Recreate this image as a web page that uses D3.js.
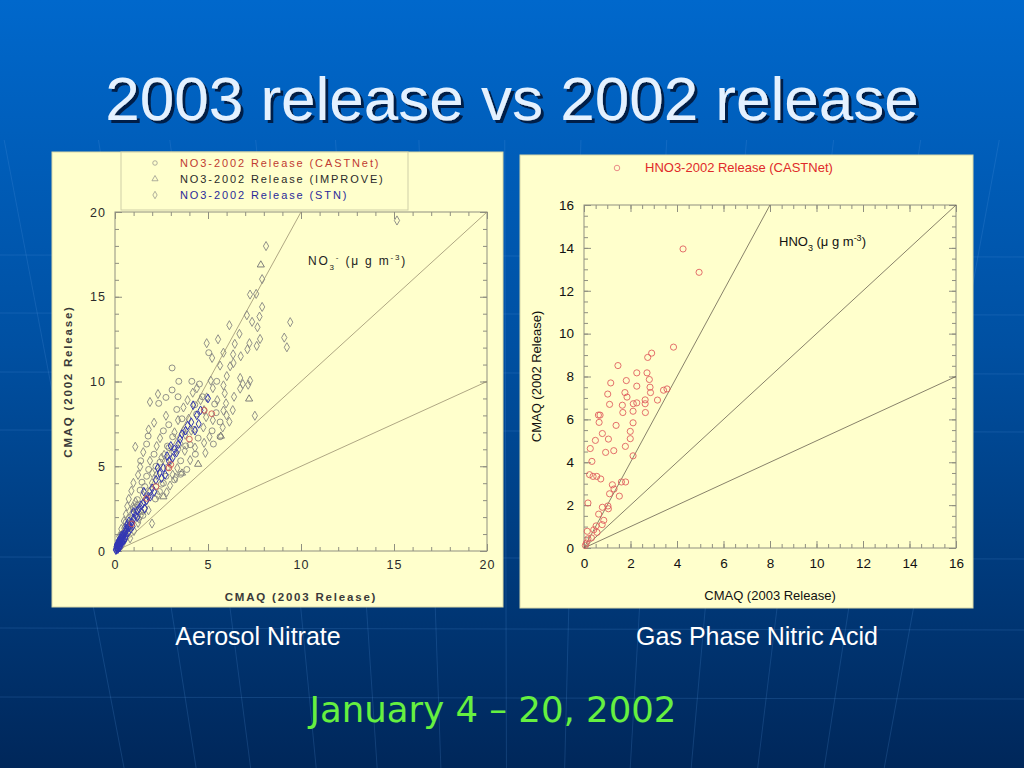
<!DOCTYPE html>
<html>
<head>
<meta charset="utf-8">
<script src="https://cdn.jsdelivr.net/npm/d3@7"></script>
<style>
  html, body { margin: 0; padding: 0; background: #003a80; }
  svg { display: block; font-family: "Liberation Sans", Arial, sans-serif; }
</style>
</head>
<body>
<div id="chart"></div>
<script>
// ---- data ----

// left panel: NO3 (aerosol nitrate), CMAQ 2003 (x) vs CMAQ 2002 (y)
const no3Legend = ['NO3-2002 Release (CASTNet)', 'NO3-2002 Release (IMPROVE)', 'NO3-2002 Release (STN)'];

const stnPts = [
  [15.16, 19.5], [8.12, 17.99], [7.91, 16.04], [7.26, 15.13], [7.59, 15.17], [7.91, 14.4], [7.77, 13.83],
  [7.09, 13.91], [7.37, 13.52], [9.42, 13.5], [7.66, 13.2], [6.15, 13.32], [6.69, 12.81], [5.54, 12.49],
  [4.93, 12.26], [9.1, 12.59], [7.8, 12.51], [7.23, 12.26], [6.44, 12.22], [7.62, 12.1], [9.24, 12.02],
  [7.12, 11.9], [5.83, 11.7], [5.22, 11.39], [6.35, 11.6], [6.76, 11.49], [6.37, 11.09], [5.65, 10.94],
  [6.19, 10.9], [6.01, 10.32], [6.73, 10.21], [7.26, 10.05], [6.87, 9.85], [5.15, 10.05], [5.26, 9.61],
  [5.83, 9.77], [7.16, 9.81], [6.73, 9.58], [4.18, 9.34], [5.9, 9.3], [6.4, 9.1], [2.31, 9.26], [4.93, 9.06],
  [5.97, 8.71], [1.88, 8.79], [3.68, 8.47], [4.79, 8.31], [5.83, 8.28], [6.33, 8.31], [7.52, 7.98],
  [2.74, 7.98], [3.96, 7.8], [5.26, 7.72], [6.15, 7.63], [2.1, 7.57], [3.39, 7.72], [1.81, 7.17], [3.68, 7.09],
  [4.75, 7.29], [5.79, 7.29], [2.42, 6.66], [3.78, 6.86], [5.08, 6.74], [1.09, 6.15], [2.24, 6.19], [3.5, 6.35],
  [4.79, 6.38], [1.52, 5.83], [2.64, 5.67], [3.75, 5.91], [4.86, 5.79], [1.88, 5.32], [3.0, 5.36], [4.04, 5.36],
  [1.35, 4.97], [2.31, 4.89], [3.35, 4.89], [1.24, 4.49], [2.24, 4.49], [3.25, 4.33], [0.99, 4.02], [1.99, 4.02],
  [2.96, 3.86], [0.88, 3.55], [1.85, 3.51], [2.78, 3.47], [0.74, 3.07], [1.7, 2.99], [0.66, 2.64], [1.6, 2.52],
  [1.99, 1.62], [0.59, 2.17], [1.38, 2.09], [0.48, 1.77], [1.24, 1.66], [0.34, 1.3], [1.02, 1.18], [0.23, 0.87],
  [0.81, 0.75], [0.16, 0.47], [0.41, 0.43], [0.09, 0.2], [0.6, 1.5], [0.45, 1.1], [0.3, 0.9], [0.7, 1.9],
  [0.95, 2.6], [1.1, 2.9], [0.2, 0.6], [0.55, 0.7], [3.9, 8.9], [4.4, 9.6], [4.6, 8.9], [3.2, 7.0],
  [4.1, 7.1], [4.9, 7.9], [3.4, 6.0], [2.5, 5.5], [4.3, 6.1], [2.0, 4.6], [3.1, 4.5], [1.5, 3.3], [2.3, 3.3],
  [1.2, 2.7], [1.8, 2.4], [0.9, 2.2], [1.3, 1.9], [0.5, 1.35], [0.75, 1.15], [0.35, 0.6], [5.5, 8.9], [6.0, 8.0]
];

const castnetPts = [
  [5.04, 11.7], [3.07, 10.8], [5.47, 10.01], [3.43, 10.01], [4.13, 10.01], [4.54, 9.85], [3.07, 9.5],
  [2.74, 9.06], [3.39, 9.1], [5.36, 8.67], [2.35, 8.71], [4.29, 8.63], [5.44, 8.16], [3.32, 8.35], [4.39, 8.08],
  [5.65, 7.61], [2.89, 7.45], [2.6, 7.09], [4.25, 7.17], [5.22, 7.09], [1.78, 6.78], [3.1, 6.74], [4.47, 6.66],
  [5.65, 6.74], [1.7, 6.31], [2.82, 6.19], [4.04, 6.27], [5.29, 6.31], [2.1, 5.71], [3.17, 5.83], [4.32, 5.71],
  [1.38, 5.32], [2.42, 5.24], [3.53, 5.32], [1.81, 4.81], [2.82, 4.93], [3.86, 4.81], [1.7, 4.41], [2.74, 4.41],
  [3.53, 4.53], [1.45, 4.06], [2.49, 3.94], [1.35, 3.59], [2.39, 3.51], [1.2, 3.03], [2.17, 3.07], [1.09, 2.6],
  [0.99, 2.21], [0.88, 1.73], [0.7, 1.3], [0.52, 0.83], [0.27, 0.24], [3.6, 7.8], [4.7, 9.1], [2.9, 6.1],
  [3.8, 6.2], [2.2, 5.0], [3.2, 4.2], [1.6, 3.8], [2.6, 4.0], [1.0, 2.5], [1.5, 2.1], [0.6, 1.7], [0.4, 1.0]
];

const improvePts = [[7.84, 16.88], [7.21, 8.97], [4.47, 5.12], [5.69, 6.78], [3.6, 4.6], [2.6, 3.2], [1.4, 2.3], [0.6, 1.0]];

// darker coloured symbols along the core of the cloud
const stnCorePts = [
  [0.05, 0.1], [0.1, 0.15], [0.15, 0.3], [0.2, 0.35], [0.25, 0.5], [0.3, 0.6], [0.35, 0.7], [0.4, 0.8],
  [0.45, 0.85], [0.5, 1.0], [0.55, 1.1], [0.6, 1.2], [0.7, 1.4], [0.8, 1.5], [0.9, 1.7], [1.0, 1.9],
  [1.1, 2.1], [1.2, 2.4], [1.3, 2.5], [1.5, 2.8], [1.7, 3.0], [1.8, 3.2], [2.0, 3.7], [2.2, 4.2], [2.4, 4.6],
  [2.6, 4.9], [2.9, 5.3], [3.1, 5.5], [3.2, 6.0], [3.4, 6.3], [3.6, 6.9], [3.8, 7.1], [4.1, 7.6], [4.4, 8.0],
  [4.6, 8.3], [5.0, 9.0], [0.12, 0.4], [0.2, 0.6], [0.3, 0.4], [0.35, 0.9], [0.45, 0.6], [0.6, 0.9],
  [0.25, 0.2], [0.15, 0.1], [0.08, 0.25], [0.18, 0.2], [0.4, 0.55], [0.05, 0.05], [0.1, 0.35], [0.3, 0.75],
  [1.2, 2.0], [1.4, 2.7], [2.1, 3.5], [2.5, 4.3], [2.8, 5.6], [3.3, 5.8], [3.5, 6.6], [3.9, 7.4], [4.3, 7.1],
  [2.3, 4.9], [1.9, 3.2], [1.0, 2.3], [0.7, 1.1], [0.85, 1.3], [0.55, 0.75], [0.65, 1.55], [1.6, 2.5],
  [2.7, 4.5], [3.0, 6.2], [4.2, 8.6], [4.5, 7.5], [1.55, 3.5], [0.95, 1.45], [0.22, 0.45], [0.12, 0.2],
  [0.28, 0.32], [0.38, 0.5], [0.5, 0.65], [0.42, 0.95], [0.33, 0.55], [0.18, 0.5], [0.6, 1.35], [0.75, 1.75]
];
const castnetCorePts = [[1.7, 3.1], [2.2, 3.8], [3.0, 5.1], [4.0, 6.6], [4.8, 8.3], [5.2, 8.1], [2.9, 4.9], [0.9, 1.6]];

// right panel: HNO3 (CASTNet)
const hno3Legend = 'HNO3-2002 Release (CASTNet)';
const hno3Pts = [
  [4.26, 13.95], [4.95, 12.86], [3.85, 9.37], [2.91, 9.09], [2.74, 8.89], [1.46, 8.51], [2.27, 8.17], [2.71, 8.17],
  [1.15, 7.7], [1.82, 7.81], [2.81, 7.86], [2.27, 7.55], [2.84, 7.5], [3.42, 7.36], [3.57, 7.42], [1.02, 7.18],
  [1.76, 7.25], [1.85, 7.04], [2.86, 7.25], [3.16, 6.9], [2.63, 6.91], [1.1, 6.7], [1.65, 6.66], [2.12, 6.73],
  [2.27, 6.77], [2.63, 6.73], [1.67, 6.32], [2.11, 6.38], [2.64, 6.32], [0.62, 6.2], [0.69, 6.2], [0.65, 5.86],
  [2.11, 5.84], [1.38, 5.72], [0.79, 5.34], [1.99, 5.44], [1.05, 5.08], [1.99, 5.1], [0.49, 5.02], [1.78, 4.74],
  [0.27, 4.64], [0.93, 4.46], [1.28, 4.54], [2.11, 4.3], [0.34, 4.04], [0.24, 3.42], [0.39, 3.34], [0.55, 3.34],
  [0.72, 3.22], [1.61, 3.08], [1.79, 3.08], [1.22, 2.95], [1.29, 2.75], [1.1, 2.53], [1.52, 2.42], [0.17, 2.1],
  [0.79, 1.9], [1.03, 1.96], [1.05, 1.83], [0.63, 1.58], [0.85, 1.29], [0.78, 1.09], [0.52, 1.03], [0.42, 0.85],
  [0.56, 0.73], [0.14, 0.78], [0.17, 0.43], [0.1, 0.23], [0.06, 0.12], [0.32, 0.47]
];

// reference lines (2:1, 1:1, 1:2)
const refSlopes = [2, 1, 0.5];

const no3Ticks = [0, 5, 10, 15, 20];
const hno3Ticks = [0, 2, 4, 6, 8, 10, 12, 14, 16];

const captions = ['Aerosol Nitrate', 'Gas Phase Nitric Acid'];
const titleText = '2003 release vs 2002 release';
const dateText = 'January 4 \u2013 20, 2002';

// ---- drawing ----
const width = 1024;
const height = 768;

const svg = d3.select('#chart').append('svg').attr('width', width).attr('height', height);

// slide background
const defs = svg.append('defs');
const bg = defs.append('linearGradient').attr('id', 'bg').attr('x1', 0).attr('y1', 0).attr('x2', 0).attr('y2', 1);
bg.append('stop').attr('offset', '0%').attr('stop-color', '#0068cc');
bg.append('stop').attr('offset', '45%').attr('stop-color', '#0050a2');
bg.append('stop').attr('offset', '100%').attr('stop-color', '#00275a');
svg.append('rect').attr('width', width).attr('height', height).attr('fill', 'url(#bg)');

const shadow = defs.append('filter').attr('id', 'shadow')
  .attr('x', '-5%').attr('y', '-20%').attr('width', '110%').attr('height', '150%');
shadow.append('feDropShadow')
  .attr('dx', 3).attr('dy', 3).attr('stdDeviation', 0.6)
  .attr('flood-color', '#06163a').attr('flood-opacity', 0.9);

// faint globe lines of the template
const deco = svg.append('g').attr('stroke', '#5a9ae0').attr('stroke-opacity', 0.2).attr('stroke-width', 1);
[255, 313, 372, 430, 557, 628, 697].forEach((y) => {
  deco.append('line').attr('x1', 0).attr('x2', width).attr('y1', y).attr('y2', y + 2);
});
[92, 170, 229, 300, 366, 435, 506, 569, 640, 706, 778, 850, 915].forEach((x) => {
  const k = (512 - x) / 2200;
  deco.append('line')
    .attr('x1', x - k * 460).attr('y1', 140)
    .attr('x2', x + k * 168).attr('y2', 768);
});

// title
svg.append('text')
  .attr('x', 512).attr('y', 120)
  .attr('text-anchor', 'middle').attr('font-size', 62)
  .attr('fill', '#e4f1ff')
  .attr('filter', 'url(#shadow)')
  .text(titleText);

function symbol(type, size) {
  return d3.symbol().type(type).size(size)();
}

function drawPanel(opt) {
  const g = svg.append('g');

  g.append('rect')
    .attr('x', opt.box[0]).attr('y', opt.box[1])
    .attr('width', opt.box[2]).attr('height', opt.box[3])
    .attr('fill', '#ffffcc')
    .attr('stroke', '#d8d8a8').attr('stroke-width', 1);

  const x = d3.scaleLinear().domain(opt.domain).range([opt.plot[0], opt.plot[1]]);
  const y = d3.scaleLinear().domain(opt.domain).range([opt.plot[3], opt.plot[2]]);
  const minor = d3.range(opt.domain[0], opt.domain[1] + 1e-9, opt.minorStep);

  const axes = [
    [d3.axisBottom, `translate(0,${opt.plot[3]})`, x, true],
    [d3.axisTop, `translate(0,${opt.plot[2]})`, x, false],
    [d3.axisLeft, `translate(${opt.plot[0]},0)`, y, true],
    [d3.axisRight, `translate(${opt.plot[1]},0)`, y, false]
  ];
  axes.forEach(([axisFn, tr, scale, labelled]) => {
    const minorAxis = g.append('g').attr('transform', tr)
      .call(axisFn(scale).tickValues(minor).tickSize(-4).tickFormat(''));
    minorAxis.select('.domain').remove();
    minorAxis.selectAll('line').attr('stroke', opt.tickColor);

    const majorAxis = g.append('g').attr('transform', tr)
      .call(axisFn(scale).tickValues(opt.ticks).tickSize(-7).tickPadding(opt.tickPad)
        .tickFormat(labelled ? d3.format('d') : ''));
    majorAxis.select('.domain').remove();
    majorAxis.selectAll('line').attr('stroke', opt.tickColor);
    majorAxis.selectAll('text')
      .attr('font-family', '"Liberation Sans", Arial, sans-serif')
      .attr('font-size', opt.tickFont)
      .attr('letter-spacing', opt.spacing)
      .attr('fill', opt.textColor);
  });

  // frame
  g.append('rect')
    .attr('x', opt.plot[0]).attr('y', opt.plot[2])
    .attr('width', opt.plot[1] - opt.plot[0]).attr('height', opt.plot[3] - opt.plot[2])
    .attr('fill', 'none').attr('stroke', opt.tickColor).attr('stroke-width', 1);

  // reference lines
  const line = d3.line().x((d) => x(d[0])).y((d) => y(d[1]));
  const max = opt.domain[1];
  g.append('g').selectAll('path')
    .data(refSlopes)
    .join('path')
    .attr('d', (s) => line([[0, 0], [Math.min(max, max / s), Math.min(max, max * s)]]))
    .attr('fill', 'none')
    .attr('stroke', opt.lineColor)
    .attr('stroke-width', 0.8);

  // axis titles
  g.append('text')
    .attr('x', (opt.plot[0] + opt.plot[1]) / 2).attr('y', opt.xTitleY)
    .attr('text-anchor', 'middle').attr('font-size', opt.titleFont)
    .attr('font-weight', opt.titleWeight)
    .attr('letter-spacing', opt.titleSpacing)
    .attr('fill', opt.titleColor)
    .text('CMAQ (2003 Release)');
  g.append('text')
    .attr('transform', `translate(${opt.yTitleX},${(opt.plot[2] + opt.plot[3]) / 2}) rotate(-90)`)
    .attr('text-anchor', 'middle').attr('font-size', opt.titleFont)
    .attr('font-weight', opt.titleWeight)
    .attr('letter-spacing', opt.titleSpacing)
    .attr('fill', opt.titleColor)
    .text('CMAQ (2002 Release)');

  return { g, x, y };
}

// ---- left panel ----
const left = drawPanel({
  box: [52, 152, 451, 455],
  plot: [115, 487, 212, 551],
  domain: [0, 20],
  ticks: no3Ticks,
  minorStep: 1,
  tickPad: 9,
  tickFont: 12.5,
  spacing: '1px',
  tickColor: '#8f8f80',
  lineColor: '#9a9070',
  textColor: '#2b2b2b',
  titleColor: '#3a3a3a',
  titleFont: 11.5,
  titleWeight: 'bold',
  titleSpacing: '1.8px',
  xTitleY: 601,
  yTitleX: 72
});

function drawMarks(panel, pts, type, size, color, width) {
  panel.g.append('g').selectAll('path')
    .data(pts)
    .join('path')
    .attr('transform', (d) => `translate(${panel.x(d[0])},${panel.y(d[1])})`)
    .attr('d', symbol(type, size))
    .attr('fill', 'none')
    .attr('stroke', color)
    .attr('stroke-width', width);
}

drawMarks(left, stnPts, d3.symbolDiamond, 24, '#858582', 0.9);
drawMarks(left, castnetPts, d3.symbolCircle, 28, '#858582', 0.9);
drawMarks(left, improvePts, d3.symbolTriangle, 22, '#707070', 0.9);
drawMarks(left, stnCorePts, d3.symbolDiamond, 22, '#3236b4', 1);
drawMarks(left, castnetCorePts, d3.symbolCircle, 26, '#c85050', 0.9);

// left legend
const lg = left.g.append('g');
lg.append('rect')
  .attr('x', 121).attr('y', 152).attr('width', 287).attr('height', 58)
  .attr('fill', '#ffffcc').attr('stroke', '#cfcfa8');
const legendTypes = [d3.symbolCircle, d3.symbolTriangle, d3.symbolDiamond];
const legendColors = ['#c03a32', '#2a2a2a', '#2a2a9a'];
no3Legend.forEach((label, i) => {
  const yy = 163 + i * 16;
  lg.append('path')
    .attr('transform', `translate(155,${yy})`)
    .attr('d', symbol(legendTypes[i], 16))
    .attr('fill', 'none').attr('stroke', '#9a9a90').attr('stroke-width', 0.8);
  lg.append('text')
    .attr('x', 180).attr('y', yy + 4)
    .attr('font-size', 11).attr('letter-spacing', '1.9px')
    .attr('fill', legendColors[i])
    .text(label);
});

// left annotation: NO3- (µ g m-3)
const a1 = left.g.append('text')
  .attr('x', 308).attr('y', 265)
  .attr('font-size', 12).attr('letter-spacing', '1.8px').attr('fill', '#222');
a1.append('tspan').text('NO');
a1.append('tspan').attr('dy', 5).attr('font-size', 8).text('3');
a1.append('tspan').attr('dy', -10).attr('font-size', 8).text('-');
a1.append('tspan').attr('dy', 5).text(' (\u03bc g m');
a1.append('tspan').attr('dy', -5).attr('font-size', 8).text('-3');
a1.append('tspan').attr('dy', 5).text(')');

// ---- right panel ----
const right = drawPanel({
  box: [520, 155, 453, 453],
  plot: [584, 956, 205, 548],
  domain: [0, 16],
  ticks: hno3Ticks,
  minorStep: 0.5,
  tickPad: 10,
  tickFont: 13.5,
  spacing: '0px',
  tickColor: '#8f8f80',
  lineColor: '#6a6250',
  textColor: '#111',
  titleColor: '#111',
  titleFont: 13,
  titleWeight: 'normal',
  titleSpacing: '0px',
  xTitleY: 600,
  yTitleX: 541
});

drawMarks(right, hno3Pts, d3.symbolCircle, 30, '#e06060', 0.9);

right.g.append('path')
  .attr('transform', 'translate(617,168)')
  .attr('d', symbol(d3.symbolCircle, 24))
  .attr('fill', 'none').attr('stroke', '#e88080').attr('stroke-width', 0.9);
right.g.append('text')
  .attr('x', 645).attr('y', 172)
  .attr('font-size', 13).attr('fill', '#e02a2a')
  .text(hno3Legend);

const a2 = right.g.append('text')
  .attr('x', 779).attr('y', 246)
  .attr('font-size', 13).attr('fill', '#111');
a2.append('tspan').text('HNO');
a2.append('tspan').attr('dy', 5).attr('font-size', 9).text('3');
a2.append('tspan').attr('dy', -5).text(' (\u03bc g m');
a2.append('tspan').attr('dy', -5).attr('font-size', 9).text('-3');
a2.append('tspan').attr('dy', 5).text(')');

// captions
svg.selectAll('.caption')
  .data(captions)
  .join('text')
  .attr('class', 'caption')
  .attr('x', (d, i) => [258, 757][i])
  .attr('y', 645)
  .attr('text-anchor', 'middle')
  .attr('font-size', 25)
  .attr('fill', '#ffffff')
  .text((d) => d);

svg.append('text')
  .attr('x', 493).attr('y', 722)
  .attr('text-anchor', 'middle')
  .style('font-family', '"DejaVu Sans", Verdana, sans-serif')
  .attr('font-size', 35.5)
  .attr('fill', '#66f040')
  .text(dateText);
</script>
</body>
</html>
